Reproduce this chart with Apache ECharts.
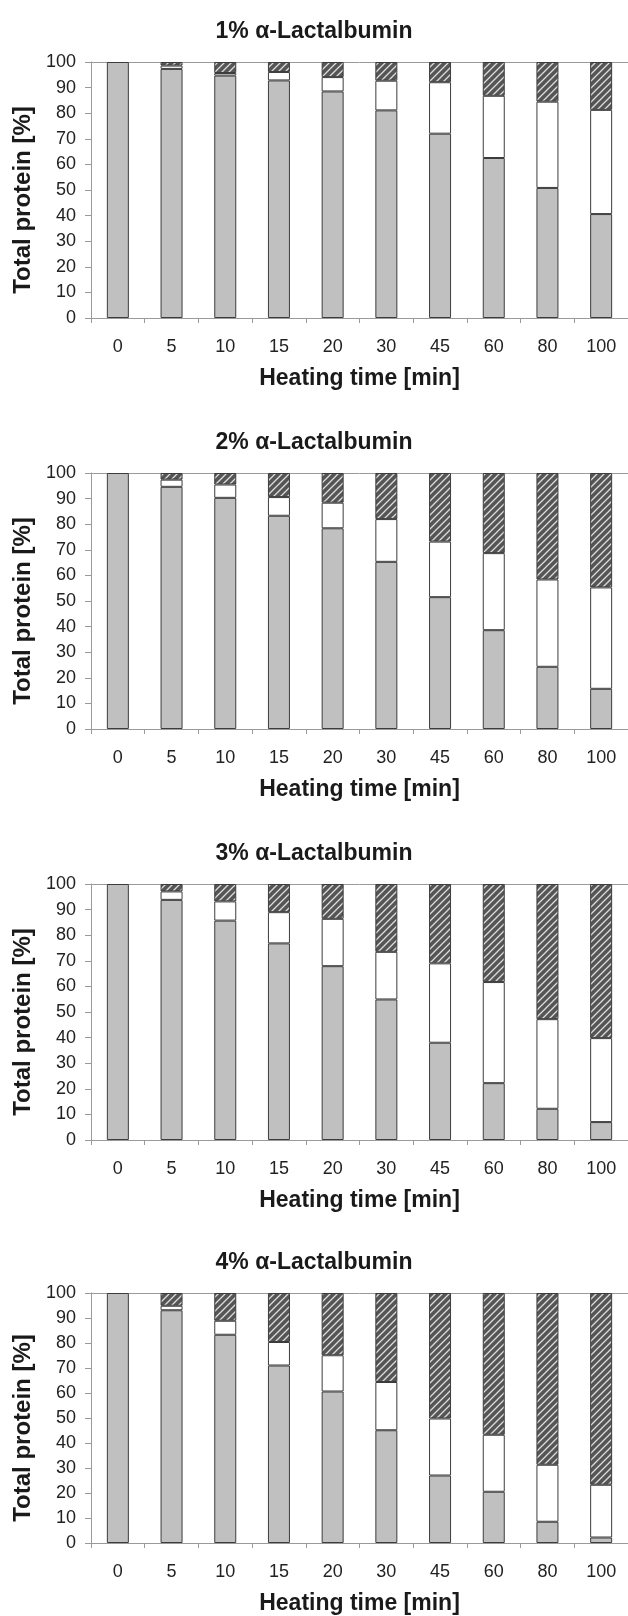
<!DOCTYPE html>
<html style="width:100%;height:100%">
<head>
    <meta charset="UTF-8">
    <title>alpha-Lactalbumin heating</title>
    <script type="text/javascript" src="https://cdn.jsdelivr.net/npm/echarts@6/dist/echarts.min.js"></script>
</head>
<body style="margin:0;width:100%;height:100%;overflow:hidden;background:#fff">
    <div id="chart" style="width:628px;height:1616px"></div>

    <script type="text/javascript">
        var myChart = echarts.init(document.getElementById('chart'), null, {renderer: 'canvas'});

        var times = ['0', '5', '10', '15', '20', '30', '45', '60', '80', '100'];
        var yTicks = [0, 10, 20, 30, 40, 50, 60, 70, 80, 90, 100];
        var titles = ['1% α-Lactalbumin', '2% α-Lactalbumin', '3% α-Lactalbumin', '4% α-Lactalbumin'];

        // segments from bottom: grey, white, hatched
        var grey1  = [100, 97.3, 94.7, 92.8, 88.5, 81.1, 72.0, 62.5, 50.8, 40.6];
        var white1 = [0, 1.3, 1.0, 3.3, 5.6, 11.6, 20.1, 24.3, 33.7, 40.7];
        var hatch1 = [0, 1.4, 4.3, 3.9, 5.9, 7.3, 7.9, 13.2, 15.5, 18.7];

        var grey2  = [100, 94.6, 90.3, 83.3, 78.4, 65.3, 51.5, 38.6, 24.3, 15.7];
        var white2 = [0, 2.8, 5.2, 7.3, 10.0, 16.7, 21.7, 30.1, 34.1, 39.6];
        var hatch2 = [0, 2.6, 4.5, 9.4, 11.6, 18.0, 26.8, 31.3, 41.6, 44.7];

        var grey3  = [100, 93.8, 85.7, 76.8, 67.9, 54.9, 38.0, 22.2, 12.2, 7.0];
        var white3 = [0, 3.3, 7.5, 12.2, 18.5, 18.6, 31.0, 39.5, 35.0, 32.8];
        var hatch3 = [0, 2.9, 6.8, 11.0, 13.6, 26.5, 31.0, 38.3, 52.8, 60.2];

        var grey4  = [100, 93.1, 83.3, 71.0, 60.6, 45.1, 27.0, 20.5, 8.5, 2.2];
        var white4 = [0, 1.8, 5.6, 9.4, 14.5, 19.3, 22.8, 22.8, 22.8, 21.1];
        var hatch4 = [0, 5.1, 11.1, 19.6, 24.9, 35.6, 50.2, 56.7, 68.7, 76.7];

        var panels = [
            [grey1, white1, hatch1],
            [grey2, white2, hatch2],
            [grey3, white3, hatch3],
            [grey4, white4, hatch4]
        ];

        function hatchPattern() {
            var c = document.createElement('canvas');
            c.width = 7; c.height = 7;
            var g = c.getContext('2d');
            g.fillStyle = '#555555';
            g.fillRect(0, 0, 7, 7);
            g.strokeStyle = '#dcdcdc';
            g.lineWidth = 1.3;
            g.beginPath();
            g.moveTo(0, 7); g.lineTo(7, 0);
            g.moveTo(-1, 1); g.lineTo(1, -1);
            g.moveTo(6, 8); g.lineTo(8, 6);
            g.stroke();
            return c;
        }
        var hatchFill = {image: hatchPattern(), repeat: 'repeat'};

        var font = 'Liberation Sans';
        var tops = [62, 473, 884, 1293];
        var plotH = 256;

        var option = {
            backgroundColor: '#fff',
            animation: false,
            title: [],
            grid: [],
            xAxis: [],
            yAxis: [],
            series: []
        };

        tops.forEach(function (top, i) {
            option.title.push({
                text: titles[i],
                left: 'center',
                top: top - 47,
                textStyle: {fontFamily: font, fontSize: 23, fontWeight: 'bold', color: '#1a1a1a'}
            });
            option.grid.push({left: 91, top: top, width: 540, height: plotH});
            option.xAxis.push({
                type: 'category',
                gridIndex: i,
                data: times,
                boundaryGap: true,
                name: 'Heating time [min]',
                nameLocation: 'middle',
                nameGap: 49,
                nameTextStyle: {fontFamily: font, fontSize: 23, fontWeight: 'bold', color: '#1a1a1a'},
                axisLine: {lineStyle: {color: '#9a9a9a', width: 1}},
                axisTick: {show: true, length: 5, lineStyle: {color: '#9a9a9a'}},
                axisLabel: {margin: 20, fontFamily: font, fontSize: 18, color: '#222'},
                splitLine: {show: false}
            });
            // top frame line
            option.xAxis.push({
                type: 'category',
                gridIndex: i,
                position: 'top',
                data: times,
                axisLine: {lineStyle: {color: '#9a9a9a', width: 1}},
                axisTick: {show: false},
                axisLabel: {show: false},
                splitLine: {show: false}
            });
            option.yAxis.push({
                type: 'value',
                gridIndex: i,
                min: yTicks[0],
                max: yTicks[yTicks.length - 1],
                interval: 10,
                name: 'Total protein [%]',
                nameLocation: 'middle',
                nameGap: 56,
                nameTextStyle: {fontFamily: font, fontSize: 24, fontWeight: 'bold', color: '#1a1a1a', padding: [0, 20, 0, 0]},
                axisLine: {show: true, lineStyle: {color: '#9a9a9a', width: 1}},
                axisTick: {show: true, length: 6, lineStyle: {color: '#9a9a9a'}},
                axisLabel: {margin: 15, fontFamily: font, fontSize: 18, color: '#222'},
                splitLine: {show: false}
            });

            var fills = ['#c0c0c0', '#ffffff', hatchFill];
            panels[i].forEach(function (vals, k) {
                option.series.push({
                    type: 'bar',
                    xAxisIndex: i * 2,
                    yAxisIndex: i,
                    stack: 'p' + i,
                    barWidth: 22,
                    data: vals.map(function (v) { return v === 0 ? '-' : v; }),
                    itemStyle: {color: fills[k], borderColor: '#3c3c3c', borderWidth: 1},
                    silent: true
                });
            });
        });

        myChart.setOption(option);
    </script>
</body>
</html>
